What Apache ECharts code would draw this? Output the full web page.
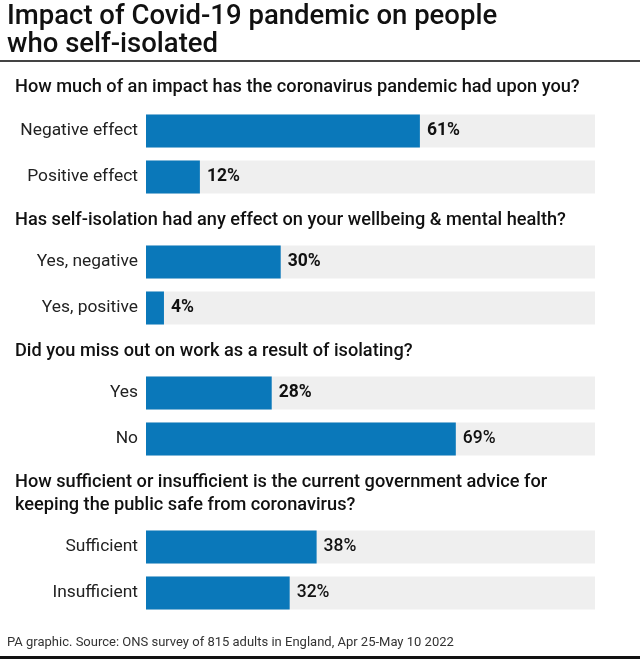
<!DOCTYPE html>
<html>
<head>
<meta charset="utf-8">
<script src="https://cdn.jsdelivr.net/npm/echarts@6/dist/echarts.min.js"></script>
<style>
html,body{margin:0;padding:0;background:#fff;}
#chart{width:640px;height:659px;}
</style>
</head>
<body>
<div id="chart"></div>
<script>
const titleLines = ['Impact of Covid-19 pandemic on people', 'who self-isolated'];
const questions = [
  'How much of an impact has the coronavirus pandemic had upon you?',
  'Has self-isolation had any effect on your wellbeing & mental health?',
  'Did you miss out on work as a result of isolating?',
  'How sufficient or insufficient is the current government advice for\nkeeping the public safe from coronavirus?'
];
const categories1 = ['Negative effect', 'Positive effect'];
const values1 = [61, 12];
const categories2 = ['Yes, negative', 'Yes, positive'];
const values2 = [30, 4];
const categories3 = ['Yes', 'No'];
const values3 = [28, 69];
const categories4 = ['Sufficient', 'Insufficient'];
const values4 = [38, 32];
const labelWeights = [[700, 700], [700, 700], [700, 500], [500, 500]];
const footer = 'PA graphic. Source: ONS survey of 815 adults in England, Apr 25-May 10 2022';

const FONT = 'Roboto';
const cats = [categories1, categories2, categories3, categories4];
const vals = [values1, values2, values3, values4];
const gridTops = [108, 239, 370, 524];
const questionYs = [87, 220, 351, 494];

const grids = [], xAxes = [], yAxes = [], series = [];
cats.forEach((c, i) => {
  grids.push({left: 146, right: 45, top: gridTops[i], height: 92});
  xAxes.push({type: 'value', gridIndex: i, min: 0, max: 100, show: false});
  yAxes.push({
    type: 'category', gridIndex: i, data: c, inverse: true,
    axisLine: {show: false}, axisTick: {show: false},
    axisLabel: {fontFamily: FONT, fontSize: 17.4, color: '#222', margin: 8}
  });
  series.push({
    type: 'bar', xAxisIndex: i, yAxisIndex: i, barWidth: 33,
    showBackground: true,
    backgroundStyle: {color: '#efefef'},
    itemStyle: {color: '#0a78ba'},
    data: vals[i].map((v, j) => ({
      value: v,
      label: {fontWeight: labelWeights[i][j]}
    })),
    label: {
      show: true, position: 'right', distance: 7,
      fontFamily: FONT, fontSize: 17.5, color: '#111',
      formatter: p => p.value + '%'
    },
    silent: true, animation: false
  });
});

const graphics = [];
titleLines.forEach((t, i) => {
  graphics.push({type: 'text', x: 7, y: 17 + i * 28,
    style: {text: t, font: `500 27.5px ${FONT}`, fill: '#111', verticalAlign: 'middle'}});
});
graphics.push({type: 'line', shape: {x1: 0, y1: 61, x2: 640, y2: 61},
  style: {stroke: '#444', lineWidth: 2}});
questions.forEach((q, i) => {
  graphics.push({type: 'text', x: 15, y: questionYs[i],
    style: {text: q, font: `500 18.2px ${FONT}`, fill: '#111',
      verticalAlign: 'middle', lineHeight: 23}});
});
graphics.push({type: 'text', x: 7, y: 643,
  style: {text: footer, font: `13px ${FONT}`, fill: '#333', verticalAlign: 'middle'}});
graphics.push({type: 'line', shape: {x1: 0, y1: 657.5, x2: 640, y2: 657.5},
  style: {stroke: '#111', lineWidth: 3}});

const chart = echarts.init(document.getElementById('chart'), null, {renderer: 'canvas'});
chart.setOption({
  animation: false,
  grid: grids, xAxis: xAxes, yAxis: yAxes, series: series,
  graphic: graphics
});
</script>
</body>
</html>
